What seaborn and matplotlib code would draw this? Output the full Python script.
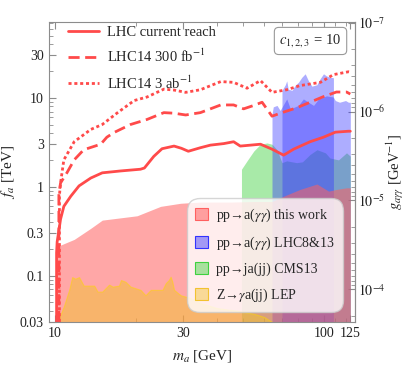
import numpy as np
import pandas as pd
import matplotlib
matplotlib.use("Agg")
import matplotlib.pyplot as plt
import seaborn as sns
from matplotlib.patches import Patch
from matplotlib.lines import Line2D
from matplotlib.ticker import FixedLocator, NullFormatter, LogLocator

# LHC reach curves (m_a in GeV, f_a in TeV)
solid_m = [10.15, 10.15, 10.2, 10.35, 10.5, 10.8, 11.46, 12.3, 13.6, 15.0, 17.5, 20.8, 21.5, 23.3, 25.0,
           27.7, 29.5, 31.3, 34.7, 37.8, 42.4, 46.1, 48.8, 58.0, 64.0, 70.7, 77.0, 88.6, 99.4, 110.0, 123.0, 125.0]
solid_f = [0.03, 0.18, 0.24, 0.32, 0.43, 0.6, 0.78, 1.02, 1.25, 1.43, 1.5, 1.57, 1.62, 2.19, 2.67,
           2.86, 2.7, 2.5, 2.74, 2.93, 3.05, 3.2, 2.86, 3.0, 2.64, 2.26, 2.64, 3.2, 3.6, 4.1, 4.2, 4.2]

dash_m = [10.35, 10.35, 10.5, 11.1, 11.8, 12.8, 14.8, 15.6, 16.6, 19.1, 22.0, 25.4, 27.7, 30.6, 34.7,
          41.3, 46.1, 50.2, 54.8, 58.8, 64.0, 69.7, 79.0, 88.6, 99.4, 111.0, 121.0, 125.0]
dash_f = [0.03, 0.8, 1.1, 1.44, 2.0, 2.6, 3.0, 3.6, 4.07, 5.0, 5.7, 6.8, 6.7, 6.4, 6.8,
          8.3, 8.3, 7.5, 8.2, 8.9, 6.2, 6.8, 7.7, 8.9, 10.3, 11.6, 11.6, 11.0]

dot_m = [10.4, 10.4, 10.5, 10.8, 11.8, 13.6, 15.0, 17.1, 19.7, 22.0, 25.4, 27.7, 30.6, 34.7, 41.3,
         46.1, 51.7, 58.0, 64.0, 72.6, 81.3, 96.8, 108.2, 123.0, 125.0]
dot_f = [0.03, 0.8, 1.1, 2.0, 3.2, 4.4, 5.0, 6.8, 9.3, 10.2, 12.5, 12.2, 11.5, 12.3, 15.2,
         14.9, 12.8, 15.6, 11.5, 12.3, 13.7, 14.9, 18.2, 19.6, 19.4]

# excluded regions (upper boundary, filled down to the bottom)
pink_m = [10.2, 10.5, 11.8, 13.6, 15.0, 20.2, 24.7, 29.3, 34.7, 45.0, 55.0, 64.0, 70.7, 81.3, 94.0,
          103.8, 111.0, 121.0, 125.0]
pink_f = [0.21, 0.22, 0.255, 0.34, 0.42, 0.47, 0.6, 0.65, 0.67, 0.67, 0.68, 0.68, 0.78, 0.93, 1.07,
          0.89, 0.93, 0.97, 0.97]

yel_m = [10.4, 10.8, 11.3, 11.6, 11.9, 12.3, 12.8, 14.0, 14.4, 15.0, 15.9, 16.4, 17.3, 17.6, 18.3,
         19.1, 20.8, 21.7, 22.7, 25.1, 25.8, 26.5, 26.9, 27.3, 27.7, 29.3, 31.8, 34.7, 40.0, 48.0,
         55.0, 60.0, 64.0]
yel_f = [0.034, 0.045, 0.069, 0.096, 0.092, 0.096, 0.077, 0.077, 0.066, 0.066, 0.079, 0.075, 0.077, 0.089, 0.085,
         0.075, 0.069, 0.06, 0.069, 0.069, 0.082, 0.089, 0.097, 0.085, 0.069, 0.06, 0.056, 0.049, 0.043, 0.04,
         0.037, 0.034, 0.03]

green_m = [49.3, 51.7, 54.8, 58.0, 61.3, 64.0, 66.8, 69.7, 72.6, 79.0, 83.0, 88.6, 94.0, 101.0, 105.0,
           113.0, 121.0, 125.0]
green_f = [1.57, 1.95, 2.52, 3.0, 3.1, 3.0, 2.6, 1.86, 1.95, 1.86, 1.9, 2.3, 2.6, 2.4, 2.1,
           2.0, 2.4, 2.2]

blueA_m = [64.0, 64.7, 66.8, 68.6, 70.0, 72.6, 74.9, 80.2, 83.7, 87.4, 91.3, 95.3, 102.0, 108.0, 110.0,
           114.0, 120.0, 123.0, 125.0]
blueA_f = [6.5, 7.9, 8.2, 7.2, 8.0, 9.7, 7.5, 8.2, 9.7, 8.9, 8.2, 9.7, 10.5, 10.2, 9.3,
           8.9, 9.3, 8.9, 8.9]

blueB_m = [69.7, 71.7, 72.6, 73.5, 75.9, 78.3, 80.2, 82.6, 85.0, 87.4, 90.0, 93.9, 96.6, 99.4, 102.0,
           105.0, 108.2]
blueB_f = [12.1, 14.0, 15.5, 12.5, 12.1, 14.0, 14.9, 17.0, 18.6, 15.5, 13.5, 14.0, 16.4, 18.6, 17.6,
           17.0, 16.8]

line_labels = ["LHC current reach", "LHC14 300 fb$^{-1}$", "LHC14 3 ab$^{-1}$"]
region_labels = [r"pp→a($\gamma\gamma$) this work", r"pp→a($\gamma\gamma$) LHC8&13",
                 "pp→ja(jj) CMS13", r"Z→$\gamma$a(jj) LEP"]

sns.set_style("ticks")
plt.rcParams["font.family"] = ["Liberation Serif", "DejaVu Serif"]
plt.rcParams["mathtext.fontset"] = "stix"
plt.rcParams["figure.facecolor"] = "white"
plt.rcParams["axes.facecolor"] = "white"
plt.rcParams["savefig.facecolor"] = "white"

red = "#ff4a4a"
pink, blue, green, yellow = "#ff6060", "#3333ff", "#3fd13f", "#f2c230"
gray = "#8c8c8c"

fig = plt.figure(figsize=(4.07, 3.68), dpi=100)
ax = fig.add_axes([0.120, 0.125, 0.752, 0.815])
ax.set_facecolor("white")
ax.set_xscale("log")
ax.set_yscale("log")
ax.set_xlim(9.5, 130)
ax.set_ylim(0.03, 71)

bottom = 0.01
ax.fill_between(green_m, bottom, green_f, color=green, alpha=0.45, lw=0)
ax.fill_between(blueA_m, bottom, blueA_f, color=blue, alpha=0.4, lw=0)
ax.fill_between(blueB_m, bottom, blueB_f, color=blue, alpha=0.4, lw=0)
ax.fill_between(pink_m, bottom, pink_f, color=pink, alpha=0.55, lw=0)
ax.fill_between(yel_m, bottom, yel_f, facecolor=yellow, alpha=0.5, edgecolor="#ffd800", lw=0.8)

curves = [(solid_m, solid_f, "-"), (dash_m, dash_f, (0, (4, 2))), (dot_m, dot_f, (0, (1.1, 1.0)))]
for (m, f, ls), lab in zip(curves, line_labels):
    d = pd.DataFrame({"m": m, "f": f})
    sns.lineplot(data=d, x="m", y="f", sort=False, estimator=None, ax=ax,
                 color=red, lw=2, linestyle=ls, legend=False)

# axes styling
for sp in ax.spines.values():
    sp.set_color(gray)
    sp.set_linewidth(0.8)
ax.xaxis.set_major_locator(FixedLocator([10, 30, 100, 125]))
ax.xaxis.set_minor_locator(FixedLocator([20, 40, 50, 60, 70, 80, 90, 110, 120]))
ax.set_xticklabels(["10", "30", "100", "125"])
ax.xaxis.set_minor_formatter(NullFormatter())
ax.yaxis.set_major_locator(FixedLocator([0.03, 0.1, 0.3, 1, 3, 10, 30]))
ax.set_yticklabels(["0.03", "0.1", "0.3", "1", "3", "10", "30"])
ax.yaxis.set_minor_locator(LogLocator(base=10, subs=np.arange(2, 10)))
ax.yaxis.set_minor_formatter(NullFormatter())
ax.tick_params(which="both", direction="in", colors=gray, labelcolor="#222222",
               labelsize=10, top=True, right=False)
ax.tick_params(which="major", length=5, width=0.8)
ax.tick_params(which="minor", length=3, width=0.6)

ax.set_xlabel("$m_a$ [GeV]", fontsize=11, color="#222222", labelpad=6)
ax.set_ylabel("$f_a$ [TeV]", fontsize=11, color="#222222", labelpad=2)

C = 7e-6
g_major = [1e-7, 1e-6, 1e-5, 1e-4]
g_minor = [k * 10.0 ** e for e in (-7, -6, -5, -4) for k in range(2, 10) if C / 71 < k * 10.0 ** e < C / 0.03]
sec = ax.secondary_yaxis("right", functions=(lambda f: C / np.asarray(f), lambda g: C / np.asarray(g)))
sec.yaxis.set_major_locator(FixedLocator(g_major))
sec.set_yticklabels(["$10^{-7}$", "$10^{-6}$", "$10^{-5}$", "$10^{-4}$"])
sec.yaxis.set_minor_locator(FixedLocator(g_minor))
sec.yaxis.set_minor_formatter(NullFormatter())
sec.spines["right"].set_color(gray)
sec.tick_params(which="both", direction="in", colors=gray, labelcolor="#222222", labelsize=10, pad=2)
sec.tick_params(which="major", length=5, width=0.8)
sec.tick_params(which="minor", length=3, width=0.6)
sec.set_ylabel(r"$g_{a\gamma\gamma}$ [GeV$^{-1}$]", fontsize=10.5, color="#222222", labelpad=0)

# legends
line_handles = [Line2D([], [], color=red, lw=2, linestyle=ls) for _, _, ls in curves]
leg1 = ax.legend(line_handles, line_labels, loc="upper left", bbox_to_anchor=(0.02, 1.03),
                 frameon=False, fontsize=10.5, handlelength=2.1, handletextpad=0.6, labelspacing=0.6)
ax.add_artist(leg1)

reg_colors = [(pink, 0.55), (blue, 0.45), (green, 0.45), (yellow, 0.45)]
reg_handles = [Patch(facecolor=matplotlib.colors.to_rgba(c, a), edgecolor=c, lw=0.8) for c, a in reg_colors]
leg2 = ax.legend(reg_handles, region_labels, loc="lower right", bbox_to_anchor=(0.985, 0.01),
                 fontsize=10, fancybox=True, framealpha=0.8, handlelength=0.9, handleheight=0.9,
                 handletextpad=0.6, labelspacing=0.75, borderpad=0.6)
leg2.get_frame().set_edgecolor("#cccccc")
leg2.get_frame().set_facecolor("white")
leg2.get_frame().set_boxstyle("round", pad=0, rounding_size=0.9)

ax.text(0.855, 0.937, "$c_{1,2,3}$ = 10", transform=ax.transAxes, ha="center", va="center",
        fontsize=10.5, bbox=dict(boxstyle="round,pad=0.35,rounding_size=0.3", fc="white", ec="#999999", lw=0.8))

fig.savefig("out.png", dpi=100, facecolor="white")
